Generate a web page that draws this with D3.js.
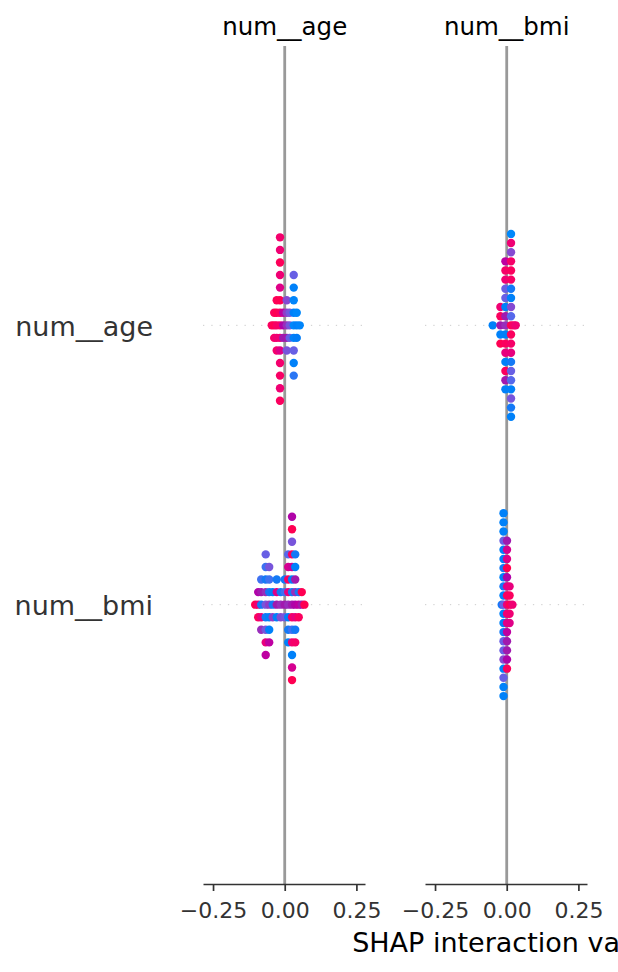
<!DOCTYPE html>
<html>
<head>
<meta charset="utf-8">
<script src="https://cdn.jsdelivr.net/npm/d3@7"></script>
<style>
  body { margin: 0; background: #fff; }
  svg { display: block; font-family: "DejaVu Sans", sans-serif; }
</style>
</head>
<body>
<div id="chart"></div>
<script>
// features, same order for rows and columns
var features = ["num__age", "num__bmi"];
var xTicks = [-0.25, 0.00, 0.25];
var xLabel = "SHAP interaction value";

// row num__age, column num__age
var ageAgeShap = [
  -0.0453,
  -0.0366, -0.0366, -0.0366,
  -0.0279, -0.0279, -0.0279, -0.0279, -0.0279,
  -0.0164, -0.0164, -0.0164, -0.0164, -0.0164, -0.0164, -0.0164,
  -0.0164, -0.0164, -0.0164, -0.0164, -0.0164, -0.0164, -0.0164,
  -0.0052, -0.0052, -0.0052,
  0.0070, 0.0070, 0.0070, 0.0070, 0.0070,
  0.0174, 0.0174, 0.0174,
  0.0314, 0.0314, 0.0314, 0.0314, 0.0314, 0.0314, 0.0314, 0.0314, 0.0314,
  0.0419, 0.0419, 0.0419,
  0.0523
];
// num__age value of each point, 0 = low, 1 = high
var ageAgeValue = [
  0.95,
  1.0, 0.95, 0.9,
  0.92, 1.0, 0.85, 0.98, 0.88,
  0.9, 0.95, 0.85, 1.0, 0.75, 0.75, 0.88, 0.85, 0.92, 0.97, 0.85, 0.85, 0.95, 0.88,
  0.55, 0.6, 0.5,
  0.45, 0.4, 0.5, 0.35, 0.3,
  0.3, 0.28, 0.25,
  0.0, 0.05, 0.05, 0.02, 0.25, 0.05, 0.05, 0.25, 0.12,
  0.05, 0.0, 0.08,
  0.02
];

// row num__age, column num__bmi
var ageBmiShap = [
  -0.0488,
  -0.0220, -0.0220, -0.0220, -0.0220, -0.0220,
  -0.0045, -0.0045, -0.0045, -0.0045, -0.0045, -0.0045, -0.0045, -0.0045,
  -0.0045, -0.0045, -0.0045, -0.0045, -0.0045, -0.0045, -0.0045,
  0.0150, 0.0150, 0.0150, 0.0150, 0.0150, 0.0150, 0.0150, 0.0150, 0.0150, 0.0150, 0.0150,
  0.0150, 0.0150, 0.0150, 0.0150, 0.0150, 0.0150, 0.0150, 0.0150, 0.0150, 0.0150,
  0.0244,
  0.0314
];
var ageBmiValue = [
  0.05,
  0.5, 0.95, 0.05, 0.85, 1.0,
  0.45, 0.5, 0.05, 0.05, 0.95, 0.25, 0.8, 0.25, 0.05, 0.85, 0.95, 0.9, 0.5, 0.6, 0.05,
  1.0, 0.2, 0.95, 0.35, 0.9, 0.05, 0.8, 0.1, 0.1, 0.92, 0.25,
  0.95, 0.2, 0.9, 0.05, 0.35, 0.3, 0.85, 0.1, 0.0, 0.05,
  0.9,
  0.85
];

// row num__bmi, column num__age
var bmiAgeShap = [
  -0.1030,
  -0.0925, -0.0925, -0.0925,
  -0.0820, -0.0820, -0.0820, -0.0820, -0.0820,
  -0.0663, -0.0663, -0.0663, -0.0663, -0.0663, -0.0663, -0.0663, -0.0663, -0.0663,
  -0.0541, -0.0541, -0.0541, -0.0541, -0.0541, -0.0541, -0.0541,
  -0.0419, -0.0419, -0.0419,
  -0.0279, -0.0279, -0.0279, -0.0279,
  -0.0140, -0.0140, -0.0140,
  0.0000, 0.0000, 0.0000, 0.0000,
  0.0122, 0.0122, 0.0122, 0.0122, 0.0122, 0.0122, 0.0122, 0.0122,
  0.0255, 0.0255, 0.0255, 0.0255, 0.0255, 0.0255, 0.0255,
  0.0255, 0.0255, 0.0255, 0.0255, 0.0255, 0.0255, 0.0255,
  0.0366, 0.0366, 0.0366, 0.0366, 0.0366, 0.0366, 0.0366, 0.0366,
  0.0488, 0.0488, 0.0488,
  0.0595, 0.0595,
  0.0687
];
// num__bmi value of each point, 0 = low, 1 = high
var bmiAgeValue = [
  1.0,
  0.85, 0.55, 0.95,
  0.1, 0.5, 0.8, 0.15, 0.45,
  0.3, 0.45, 0.1, 0.1, 0.3, 0.15, 0.8, 0.25, 0.6,
  0.4, 0.1, 0.05, 0.15, 0.05, 0.3, 0.6,
  0.1, 0.05, 0.4,
  0.5, 0.75, 0.05, 0.1,
  0.45, 0.1, 0.35,
  0.5, 0.15, 0.3, 0.1,
  0.45, 0.8, 0.05, 0.95, 0.1, 0.7, 0.05, 0.2,
  0.5, 0.1, 0.9, 0.05, 0.15, 0.65, 0.85,
  0.95, 0.05, 0.3, 0.7, 1.0, 1.0, 0.55,
  0.55, 0.45, 0.8, 0.5, 0.1, 0.05, 0.9, 0.1,
  0.6, 0.1, 0.95,
  0.5, 1.0,
  1.0
];

// row num__bmi, column num__bmi
var bmiBmiShap = [
  -0.0175,
  -0.0112, -0.0112, -0.0112, -0.0112, -0.0112, -0.0112, -0.0112, -0.0112, -0.0112, -0.0112, -0.0112,
  -0.0112, -0.0112, -0.0112, -0.0112, -0.0112, -0.0112, -0.0112, -0.0112, -0.0112, -0.0112,
  0.0010, 0.0010, 0.0010, 0.0010, 0.0010, 0.0010, 0.0010, 0.0010,
  0.0010, 0.0010, 0.0010, 0.0010, 0.0010, 0.0010, 0.0010,
  0.0100, 0.0100, 0.0100, 0.0100, 0.0100,
  0.0200
];
var bmiBmiValue = [
  0.1,
  0.25, 0.05, 0.05, 0.1, 0.05, 0.05, 0.1, 0.1, 0.25, 0.05, 0.25,
  0.05, 0.35, 0.25, 0.05, 0.05, 0.25, 0.05, 0.05, 0.05, 0.05,
  0.8, 0.95, 0.85, 0.75, 0.75, 0.55, 0.6, 1.0,
  0.5, 0.75, 0.5, 0.7, 0.55, 0.5, 0.95,
  1.0, 0.95, 0.85, 0.8, 0.75,
  0.85
];

var panels = [
  { row: 0, col: 0, shap: ageAgeShap, value: ageAgeValue },
  { row: 0, col: 1, shap: ageBmiShap, value: ageBmiValue },
  { row: 1, col: 0, shap: bmiAgeShap, value: bmiAgeValue },
  { row: 1, col: 1, shap: bmiBmiShap, value: bmiBmiValue }
];

var width = 618, height = 972;
var colLeft = [203, 425], colWidth = 162;
var plotTop = 46, plotBottom = 884;

var svg = d3.select("#chart").append("svg")
  .attr("width", width)
  .attr("height", height);

svg.append("rect").attr("width", width).attr("height", height).attr("fill", "#fff");

// red/blue map used by shap (lch interpolation, darker in the middle)
function shapColor(t) {
  t = Math.max(0, Math.min(1, t));
  var l = t < 0.5 ? 54 + (40 - 54) * (t / 0.5) : 40 + (54 - 40) * ((t - 0.5) / 0.5);
  var c = 70 + 20 * t;
  var h = (4.6588 + t * (0.35470565 + 2 * Math.PI - 4.6588)) * 180 / Math.PI;
  return d3.hcl(h, c, l).formatHex();
}

// beeswarm offsets as shap does it: bin the values, stack points of a bin
function swarm(shaps) {
  var nbins = 100;
  var lo = d3.min(shaps), hi = d3.max(shaps);
  var quant = shaps.map(v => Math.round(nbins * (v - lo) / (hi - lo + 1e-8)));
  var inds = d3.range(shaps.length).sort((a, b) => quant[a] - quant[b] || a - b);
  var ys = shaps.map(() => 0);
  var layer = 0, last = -1;
  inds.forEach(i => {
    if (quant[i] !== last) layer = 0;
    ys[i] = Math.ceil(layer / 2) * ((layer % 2) * 2 - 1);
    layer += 1;
    last = quant[i];
  });
  var k = 0.9 * (0.4 / (d3.max(ys) + 1));
  return ys.map(y => y * k);
}

var y = d3.scaleLinear().domain([-1, features.length]).range([plotTop, plotBottom]);

var xScales = colLeft.map(left =>
  d3.scaleLinear().domain([-0.285, 0.28]).range([left, left + colWidth]));

// background lines of each column
xScales.forEach((x, c) => {
  var g = svg.append("g");
  features.forEach((f, r) => {
    g.append("line")
      .attr("x1", x.range()[0]).attr("x2", x.range()[1])
      .attr("y1", y(r)).attr("y2", y(r))
      .attr("stroke", "#cccccc")
      .attr("stroke-width", 1)
      .attr("stroke-dasharray", "1.3,7");
  });
  g.append("line")
    .attr("x1", x(0)).attr("x2", x(0))
    .attr("y1", plotTop).attr("y2", plotBottom)
    .attr("stroke", "#999999")
    .attr("stroke-width", 2.8);

  // column title
  svg.append("text")
    .attr("x", x(0))
    .attr("y", 34.5)
    .attr("text-anchor", "middle")
    .attr("font-size", "24.5px")
    .attr("fill", "#000")
    .text(features[c]);

  // axis
  var axis = svg.append("g")
    .attr("transform", "translate(0," + plotBottom + ")")
    .call(d3.axisBottom(x).tickValues(xTicks).tickFormat(d3.format(".2f"))
      .tickSize(7).tickSizeOuter(0).tickPadding(11));
  axis.select(".domain").attr("stroke", "#333").attr("stroke-width", 1.7);
  axis.selectAll(".tick line").attr("stroke", "#333").attr("stroke-width", 1.7);
  axis.selectAll(".tick text")
    .attr("fill", "#333")
    .attr("font-size", "22px")
    .attr("font-family", "DejaVu Sans, sans-serif");
});

// points
panels.forEach(p => {
  var x = xScales[p.col];
  var ys = swarm(p.shap);
  svg.append("g").selectAll("circle")
    .data(p.shap)
    .join("circle")
    .attr("cx", d => x(d))
    .attr("cy", (d, i) => y(p.row - ys[i]))
    .attr("r", 4.2)
    .attr("fill", (d, i) => shapColor(p.value[i]));
});

// row labels
features.forEach((f, r) => {
  svg.append("text")
    .attr("x", 153)
    .attr("y", y(r) + 10.5)
    .attr("text-anchor", "end")
    .attr("font-size", "27px")
    .attr("fill", "#333")
    .text(f);
});

svg.append("text")
  .attr("x", xScales[1](0))
  .attr("y", 951.5)
  .attr("text-anchor", "middle")
  .attr("font-size", "27px")
  .attr("fill", "#000")
  .text(xLabel);
</script>
</body>
</html>
